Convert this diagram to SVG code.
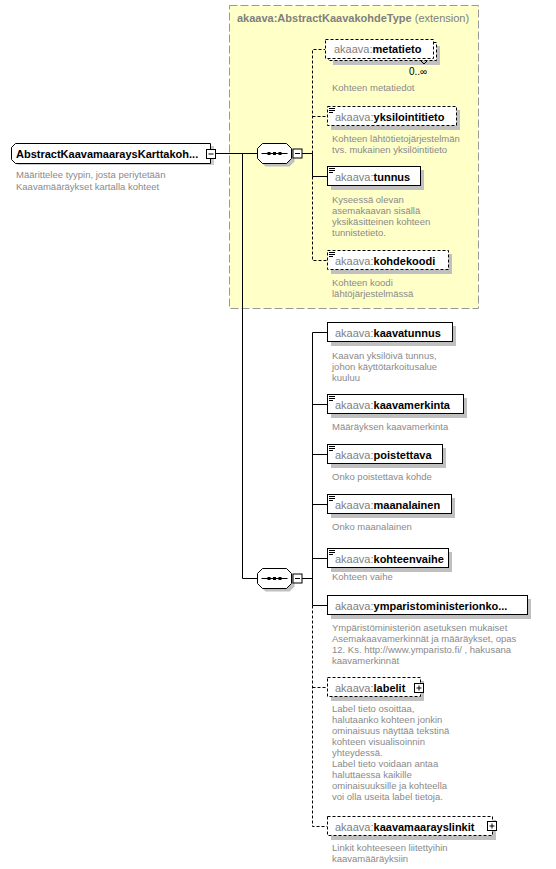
<svg xmlns="http://www.w3.org/2000/svg" width="556" height="869" viewBox="0 0 556 869">
<style>
.el{fill:#fff;stroke:#000;stroke-width:1}
.opt{fill:#fff;stroke:#000;stroke-width:1;stroke-dasharray:3,2}
.sh{fill:#c0c0c0}
.ln{stroke:#000;stroke-width:1;fill:none}
.dl{stroke:#000;stroke-width:1;fill:none;stroke-dasharray:3,2}
.pre{font-family:"Liberation Sans",Arial,sans-serif;font-size:11px;fill:#808080}
.nm{font-weight:bold;fill:#000}
.ds{font-family:"Liberation Sans",Arial,sans-serif;font-size:9.5px;fill:#8a8a8a}
.ic{stroke:#000;stroke-width:1}
.sq{fill:#fff;stroke:#000;stroke-width:1}
</style>
<defs>
<g id="icon"><path class="ic" d="M2,2.5h6M2,4.5h6M2,6.5h4"/></g>
<g id="seq">
<path d="M8,3h24l5,5v10l-5,5h-24l-5,-5v-10z" fill="#c0c0c0"/>
<path d="M5,0h24l5,5v10l-5,5h-24l-5,-5v-10z" fill="#fff" stroke="#000"/>
<path d="M4,10h26" stroke="#000"/>
<rect x="10" y="8.5" width="3" height="3" fill="#000"/>
<rect x="15.5" y="8.5" width="3" height="3" fill="#000"/>
<rect x="21" y="8.5" width="3" height="3" fill="#000"/>
<rect class="sq" x="35.5" y="5.5" width="9" height="9"/>
<path d="M37.5,10h5" stroke="#000"/>
</g>
</defs>

<g id="extension">
<rect x="229.5" y="5.5" width="249" height="303" fill="#ffffc8" stroke="#999" stroke-dasharray="8,3"/>
<text x="237" y="22" font-family="Liberation Sans,Arial,sans-serif" font-size="11px" fill="#808080"><tspan font-weight="bold">akaava:AbstractKaavakohdeType</tspan> (extension)</text>
</g>

<g id="connectors">
<path class="ln" d="M215,153.5H257"/>
<path class="ln" d="M242.5,153.5V578.5H257"/>
<path class="ln" d="M302,153.5H312.5V176.5H327"/>
<path class="dl" d="M312.5,153.5V49.5H325"/>
<path class="dl" d="M312.5,116.5H327"/>
<path class="dl" d="M312.5,176.5V260.5H327"/>
<path class="ln" d="M302,578.5H312.5"/>
<path class="ln" d="M312.5,332.5V605.5"/>
<path class="ln" d="M312.5,332.5H327M312.5,404.5H327M312.5,454.5H327M312.5,504.5H327M312.5,558.5H327M312.5,605.5H327"/>
<path class="dl" d="M312.5,605.5V826.5H327M312.5,687.5H327"/>
</g>

<g id="root">
<path d="M18,146h196l0,0v19h-196l-4,-4z" fill="#c0c0c0" opacity="0.8"/>
<path class="el" d="M15.5,143.5h195v20h-195l-4,-4v-12z"/>
<rect class="sq" x="206.5" y="149.5" width="9" height="9"/>
<path d="M208.5,154h5" stroke="#000"/>
<text x="16" y="158" font-family="Liberation Sans,Arial,sans-serif" font-size="11px" font-weight="bold" fill="#000">AbstractKaavamaaraysKarttakoh...</text>
<text class="ds" x="16" y="178">Määrittelee tyypin, josta periytetään</text>
<text class="ds" x="16" y="190">Kaavamääräykset kartalla kohteet</text>
</g>

<g id="seq1"><use href="#seq" x="257.5" y="143.5"/></g>
<g id="seq2"><use href="#seq" x="257.5" y="568.5"/></g>

<g id="metatieto">
<rect class="sh" x="333" y="46" width="107" height="19"/>
<rect class="opt" x="328.5" y="42.5" width="108" height="18"/>
<rect class="opt" x="325.5" y="39.5" width="108" height="19"/>
<path d="M421,61l3,3l3,-3" class="ln"/>
<text class="pre" x="334" y="53">akaava:<tspan class="nm">metatieto</tspan></text>
<text x="409" y="75" font-family="Liberation Sans,Arial,sans-serif" font-size="10px" fill="#000">0..∞</text>
<text class="ds" x="332" y="91">Kohteen metatiedot</text>
</g>

<g id="yksilointitieto">
<rect class="sh" x="331" y="110" width="129" height="20"/>
<rect class="opt" x="327.5" y="106.5" width="129" height="19"/>
<use href="#icon" x="327" y="106"/>
<text class="pre" x="335" y="121">akaava:<tspan class="nm">yksilointitieto</tspan></text>
<text class="ds" x="332" y="142">Kohteen lähtötietojärjestelmän</text>
<text class="ds" x="332" y="153"> tvs. mukainen yksilöintitieto</text>
</g>

<g id="tunnus">
<rect class="sh" x="331" y="170" width="93" height="20"/>
<rect class="el" x="327.5" y="166.5" width="93" height="19"/>
<use href="#icon" x="327" y="166"/>
<text class="pre" x="335" y="181">akaava:<tspan class="nm">tunnus</tspan></text>
<text class="ds" x="332" y="203">Kyseessä olevan</text>
<text class="ds" x="332" y="214">asemakaavan sisällä</text>
<text class="ds" x="332" y="225">yksikäsitteinen kohteen</text>
<text class="ds" x="332" y="236">tunnistetieto.</text>
</g>

<g id="kohdekoodi">
<rect class="sh" x="331" y="254" width="121" height="20"/>
<rect class="opt" x="327.5" y="250.5" width="121" height="19"/>
<use href="#icon" x="327" y="250"/>
<text class="pre" x="335" y="265">akaava:<tspan class="nm">kohdekoodi</tspan></text>
<text class="ds" x="332" y="286">Kohteen koodi</text>
<text class="ds" x="332" y="297">lähtöjärjestelmässä</text>
</g>

<g id="kaavatunnus">
<rect class="sh" x="331" y="326" width="125" height="20"/>
<rect class="el" x="327.5" y="322.5" width="125" height="19"/>
<text class="pre" x="335" y="337">akaava:<tspan class="nm">kaavatunnus</tspan></text>
<text class="ds" x="332" y="359">Kaavan yksilöivä tunnus,</text>
<text class="ds" x="332" y="370">johon käyttötarkoitusalue</text>
<text class="ds" x="332" y="381">kuuluu</text>
</g>

<g id="kaavamerkinta">
<rect class="sh" x="331" y="398" width="136" height="20"/>
<rect class="el" x="327.5" y="394.5" width="136" height="19"/>
<use href="#icon" x="327" y="394"/>
<text class="pre" x="335" y="409">akaava:<tspan class="nm">kaavamerkinta</tspan></text>
<text class="ds" x="332" y="430">Määräyksen kaavamerkinta</text>
</g>

<g id="poistettava">
<rect class="sh" x="331" y="448" width="115" height="20"/>
<rect class="el" x="327.5" y="444.5" width="115" height="19"/>
<use href="#icon" x="327" y="444"/>
<text class="pre" x="335" y="459">akaava:<tspan class="nm">poistettava</tspan></text>
<text class="ds" x="332" y="480">Onko poistettava kohde</text>
</g>

<g id="maanalainen">
<rect class="sh" x="331" y="498" width="124" height="20"/>
<rect class="el" x="327.5" y="494.5" width="124" height="19"/>
<use href="#icon" x="327" y="494"/>
<text class="pre" x="335" y="509">akaava:<tspan class="nm">maanalainen</tspan></text>
<text class="ds" x="332" y="530">Onko maanalainen</text>
</g>

<g id="kohteenvaihe">
<rect class="sh" x="331" y="552" width="121" height="20"/>
<rect class="el" x="327.5" y="548.5" width="121" height="19"/>
<use href="#icon" x="327" y="548"/>
<text class="pre" x="335" y="563">akaava:<tspan class="nm">kohteenvaihe</tspan></text>
<text class="ds" x="332" y="580">Kohteen vaihe</text>
</g>

<g id="ymparistoministerionkohde">
<rect class="sh" x="331" y="599" width="200" height="20"/>
<rect class="el" x="327.5" y="595.5" width="200" height="19"/>
<text class="pre" x="335" y="610">akaava:<tspan class="nm">ymparistoministerionko...</tspan></text>
<text class="ds" x="332" y="631">Ympäristöministeriön asetuksen mukaiset</text>
<text class="ds" x="332" y="642">Asemakaavamerkinnät ja määräykset, opas</text>
<text class="ds" x="332" y="653">12. Ks. http://www.ymparisto.fi/ , hakusana</text>
<text class="ds" x="332" y="664">kaavamerkinnät</text>
</g>

<g id="labelit">
<rect class="sh" x="331" y="681" width="93" height="20"/>
<rect class="opt" x="327.5" y="677.5" width="93" height="19"/>
<text class="pre" x="335" y="692">akaava:<tspan class="nm">labelit</tspan></text>
<rect class="sq" x="414.5" y="683.5" width="9" height="9"/>
<path d="M416.5,688h5M419,685.5v5" stroke="#000"/>
<text class="ds" x="332" y="712">Label tieto osoittaa,</text>
<text class="ds" x="332" y="723">halutaanko kohteen jonkin</text>
<text class="ds" x="332" y="734">ominaisuus näyttää tekstinä</text>
<text class="ds" x="332" y="745">kohteen visualisoinnin</text>
<text class="ds" x="332" y="756">yhteydessä.</text>
<text class="ds" x="332" y="767">Label tieto voidaan antaa</text>
<text class="ds" x="332" y="778">haluttaessa kaikille</text>
<text class="ds" x="332" y="789">ominaisuuksille ja kohteella</text>
<text class="ds" x="332" y="800">voi olla useita label tietoja.</text>
</g>

<g id="kaavamaarayslinkit">
<rect class="sh" x="331" y="820" width="165" height="20"/>
<rect class="opt" x="327.5" y="816.5" width="165" height="19"/>
<text class="pre" x="335" y="831">akaava:<tspan class="nm">kaavamaarayslinkit</tspan></text>
<rect class="sq" x="487.5" y="821.5" width="9" height="9"/>
<path d="M489.5,826h5M492,823.5v5" stroke="#000"/>
<text class="ds" x="332" y="851">Linkit kohteeseen liitettyihin</text>
<text class="ds" x="332" y="862">kaavamääräyksiin</text>
</g>
</svg>
